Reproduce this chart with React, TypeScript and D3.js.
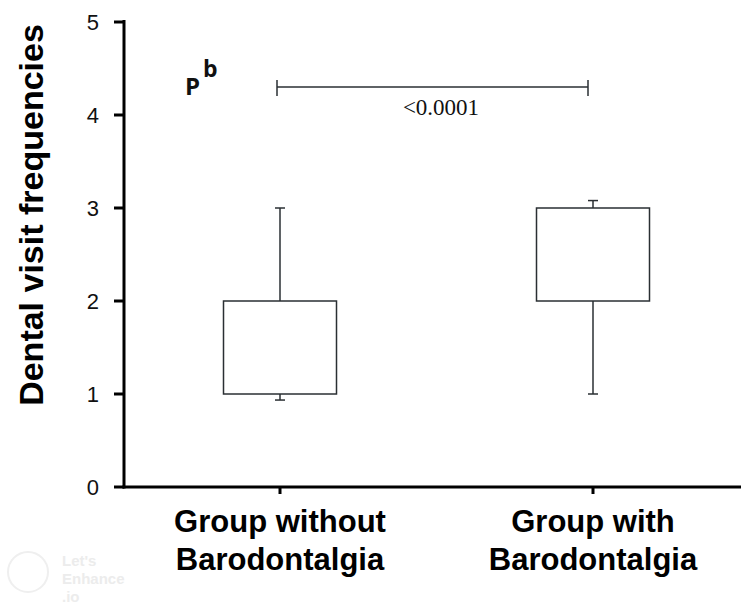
import React from "react";
import * as d3 from "d3";

const groups = ["Group without Barodontalgia", "Group with Barodontalgia"];
const groupLines = [["Group without", "Barodontalgia"], ["Group with", "Barodontalgia"]];
const q1 = [1, 2];
const q3 = [2, 3];
const whiskerLow = [0.935, 1];
const whiskerHigh = [3, 3.08];
const yTicks = [0, 1, 2, 3, 4, 5];
const sigLevel = 4.3;
const sigLabel = "<0.0001";

export default function App() {
  const W = 741, H = 607;
  const y = d3.scaleLinear().domain([0, 5]).range([487, 22]);
  const x = d3.scalePoint<string>().domain(groups).range([280, 593]);
  const axisX = 124;
  const boxW = 113;
  const capW = 10;
  const sans = "'Liberation Sans', Arial, sans-serif";

  return (
    <svg width={W} height={H} style={{ position: "absolute", left: 0, top: 0, background: "#fff" }}>
      <rect x={0} y={0} width={W} height={H} fill="#fff" />
      {/* watermark */}
      <g fill="#ececec" fontFamily={sans} fontWeight="bold" fontSize={15}>
        <circle cx={28} cy={572} r={20} fill="none" stroke="#efefef" strokeWidth={2} />
        <text x={62} y={566}>Let's</text>
        <text x={62} y={584}>Enhance</text>
        <text x={62} y={602}>.io</text>
      </g>

      {/* boxes */}
      {groups.map((g, i) => {
        const cx = x(g)!;
        return (
          <g key={g} stroke="#2a2f33" strokeWidth={1.5} fill="none">
            <line x1={cx} x2={cx} y1={y(q3[i])} y2={y(whiskerHigh[i])} />
            <line x1={cx - capW / 2} x2={cx + capW / 2} y1={y(whiskerHigh[i])} y2={y(whiskerHigh[i])} />
            <line x1={cx} x2={cx} y1={y(q1[i])} y2={y(whiskerLow[i])} />
            <line x1={cx - capW / 2} x2={cx + capW / 2} y1={y(whiskerLow[i])} y2={y(whiskerLow[i])} />
            <rect x={cx - boxW / 2} y={y(q3[i])} width={boxW} height={y(q1[i]) - y(q3[i])} fill="#fff" />
          </g>
        );
      })}

      {/* significance bar */}
      <g stroke="#2a2f33" strokeWidth={1.5}>
        <line x1={x(groups[0])! - 3} x2={x(groups[1])! - 5} y1={y(sigLevel)} y2={y(sigLevel)} />
        <line x1={x(groups[0])! - 3} x2={x(groups[0])! - 3} y1={y(sigLevel) - 7} y2={y(sigLevel) + 9} />
        <line x1={x(groups[1])! - 5} x2={x(groups[1])! - 5} y1={y(sigLevel) - 7} y2={y(sigLevel) + 9} />
      </g>
      <text x={441} y={115} textAnchor="middle" fontFamily="'Liberation Serif', 'Times New Roman', serif" fontSize={23} fill="#111">
        {sigLabel}
      </text>
      <text x={185} y={95} fontFamily="'Open Sans', sans-serif" fontWeight="bold" fontSize={24} fill="#111">P</text>
      <text x={203} y={77} fontFamily="'Open Sans', sans-serif" fontWeight="bold" fontSize={23} fill="#111">b</text>

      {/* y axis */}
      <line x1={axisX} x2={axisX} y1={20} y2={488.5} stroke="#000" strokeWidth={3} />
      {yTicks.map((t) => (
        <g key={t}>
          <line x1={axisX - 10} x2={axisX} y1={y(t)} y2={y(t)} stroke="#000" strokeWidth={3} />
          <text x={99} y={y(t)} dy="0.36em" textAnchor="end" fontFamily={sans} fontSize={22} fill="#111">
            {t}
          </text>
        </g>
      ))}

      {/* x axis */}
      <line x1={axisX - 1.5} x2={W} y1={y(0)} y2={y(0)} stroke="#000" strokeWidth={3} />
      {groups.map((g) => (
        <line key={g} x1={x(g)!} x2={x(g)!} y1={y(0)} y2={y(0) + 7} stroke="#000" strokeWidth={3} />
      ))}
      {groups.map((g, i) => (
        <text key={g} textAnchor="middle" fontFamily={sans} fontWeight="bold" fontSize={31} fill="#000">
          <tspan x={x(g)!} y={532}>{groupLines[i][0]}</tspan>
          <tspan x={x(g)!} y={570}>{groupLines[i][1]}</tspan>
        </text>
      ))}

      {/* y label */}
      <text
        transform={`translate(43, 215) rotate(-90)`}
        textAnchor="middle"
        fontFamily={sans}
        fontWeight="bold"
        fontSize={34}
        fill="#000"
      >
        Dental visit frequencies
      </text>
    </svg>
  );
}
